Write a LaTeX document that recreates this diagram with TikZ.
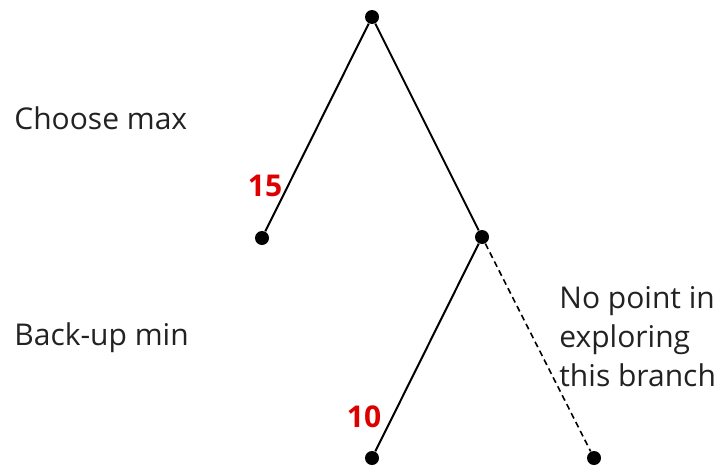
\documentclass[tikz,border=0pt]{standalone}
\usepackage{fontspec}
\setmainfont{Open Sans}
\usetikzlibrary{positioning}
\definecolor{labelgray}{RGB}{34,34,34}
\definecolor{scorered}{RGB}{220,0,0}

\begin{document}
\begin{tikzpicture}[x=0.5pt,y=-0.5pt,
    dot/.style={circle,fill=black,inner sep=0pt,minimum size=7pt},
    edge/.style={line width=1pt},
    side/.style={font=\fontsize{15}{19.5}\selectfont,text=labelgray,inner sep=0pt},
    score/.style={font=\fontsize{15}{18}\selectfont\bfseries,text=scorered,inner sep=0pt}]
  \useasboundingbox (0,0) rectangle (717,466);
  % tree
  \node[dot] (root) at (372,17) {};
  \node[dot] (maxl) at (262,238) {};
  \node[dot] (minr) at (482,237) {};
  \node[dot] (leafl) at (372,458) {};
  \node[dot] (leafr) at (594,458) {};
  \draw[edge] (root) -- (maxl);
  \draw[edge] (root) -- (minr);
  \draw[edge] (minr) -- (leafl);
  \draw[edge,dashed,line width=0.8pt,dash pattern=on 3pt off 2pt] (minr) -- (leafr);
  % values
  \node[score] (v15) at (265,186) {15};
  \node[score] (v10) at (364,417) {10};
  % side notes
  \node[side,anchor=west] (lmax) at (14,118) {Choose max};
  \node[side,anchor=west] (lmin) at (14,338) {Back-up min};
  \node[side,anchor=west,align=left] (note) at (559,337) {No point in\\exploring\\this branch};
\end{tikzpicture}
\end{document}
